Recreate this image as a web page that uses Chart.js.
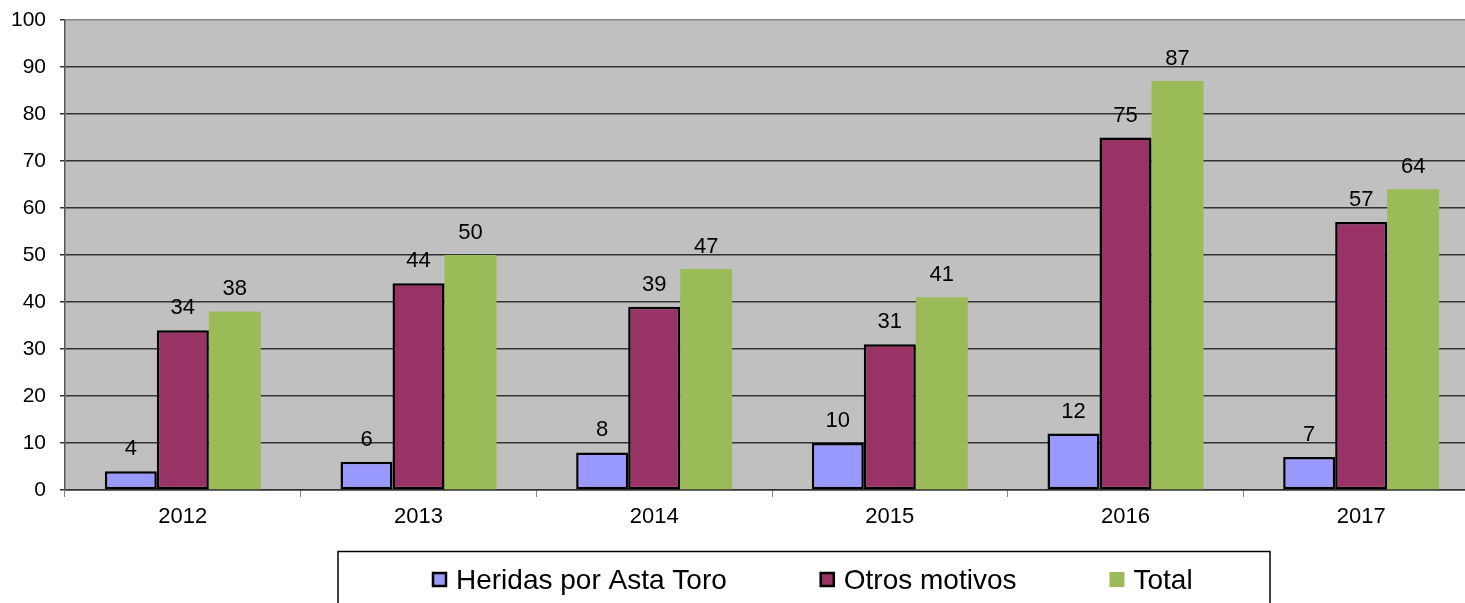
<!DOCTYPE html>
<html>
<head>
<meta charset="utf-8">
<script src="https://cdn.jsdelivr.net/npm/chart.js@4/dist/chart.umd.min.js"></script>
<style>
  html, body { margin: 0; padding: 0; background: #fff; overflow: hidden; }
  #wrap { width: 1480px; height: 603px; }
</style>
</head>
<body>
<div id="wrap"><canvas id="mycanvas" width="1480" height="603"></canvas></div>
<script>
var years = ['2012', '2013', '2014', '2015', '2016', '2017'];
var heridas = [4, 6, 8, 10, 12, 7];
var otros = [34, 44, 39, 31, 75, 57];
var total = [38, 50, 47, 41, 87, 64];
var yTicks = [0, 10, 20, 30, 40, 50, 60, 70, 80, 90, 100];

var FONT = "Arial, 'Liberation Sans', sans-serif";

// etiquetas encima de cada barra
var valueLabels = {
	id: 'valueLabels',
	afterDatasetsDraw: function(chart) {
		var ctx = chart.ctx;
		ctx.save();
		ctx.font = '22px ' + FONT;
		ctx.fillStyle = '#000';
		ctx.textAlign = 'center';
		ctx.textBaseline = 'alphabetic';
		chart.data.datasets.forEach(function(ds, i) {
			var meta = chart.getDatasetMeta(i);
			meta.data.forEach(function(bar, j) {
				ctx.fillText(ds.data[j], bar.x, bar.y - 16);
			});
		});
		ctx.restore();
	}
};

// leyenda con recuadro, como en el original
var boxLegend = {
	id: 'boxLegend',
	afterDraw: function(chart) {
		var ctx = chart.ctx;
		ctx.save();
		ctx.fillStyle = '#fff';
		ctx.fillRect(338, 551, 932, 80);
		ctx.strokeStyle = '#000';
		ctx.lineWidth = 1.5;
		ctx.strokeRect(338, 551.5, 932, 80);
		ctx.font = '28px ' + FONT;
		ctx.textBaseline = 'middle';
		ctx.textAlign = 'left';
		var x = 432;
		chart.data.datasets.forEach(function(ds) {
			ctx.fillStyle = ds.backgroundColor;
			ctx.fillRect(x, 572, 15, 15);
			if (ds.borderWidth > 0) {
				ctx.strokeStyle = '#000';
				ctx.lineWidth = 2.5;
				ctx.strokeRect(x + 1, 573, 13, 13);
			}
			ctx.fillStyle = '#000';
			ctx.fillText(ds.label, x + 24, 581);
			x += 24 + ctx.measureText(ds.label).width + 93;
		});
		ctx.restore();
	}
};

// fondo gris del área de trazado
var plotBg = {
	id: 'plotBg',
	beforeDraw: function(chart) {
		var a = chart.chartArea;
		var ctx = chart.ctx;
		ctx.save();
		ctx.fillStyle = '#C0C0C0';
		ctx.fillRect(a.left, a.top, a.right - a.left, a.bottom - a.top);
		ctx.restore();
	}
};

function noPad(scale) {
	scale.paddingTop = 0;
	scale.paddingBottom = 0;
	scale.paddingLeft = 0;
	scale.paddingRight = 0;
}

var chartdata = {
	labels: years,
	datasets: [
		{ label: 'Heridas por Asta Toro', data: heridas, backgroundColor: '#9999FF', borderColor: '#000', borderWidth: 2.5, borderSkipped: false },
		{ label: 'Otros motivos', data: otros, backgroundColor: '#993366', borderColor: '#000', borderWidth: 2.5, borderSkipped: false },
		{ label: 'Total', data: total, backgroundColor: '#9BBB59', borderWidth: 0 }
	]
};

var ctx = document.getElementById('mycanvas');
var barGraph = new Chart(ctx, {
	type: 'bar',
	data: chartdata,
	plugins: [plotBg, valueLabels, boxLegend],
	options: {
		responsive: false,
		animation: false,
		categoryPercentage: 0.662,
		barPercentage: 1,
		layout: { padding: { top: 20, right: 1, left: 0, bottom: 0 } },
		plugins: { legend: { display: false }, tooltip: { enabled: false } },
		scales: {
			x: {
				afterFit: function(scale) { scale.height = 113; noPad(scale); },
				grid: { drawOnChartArea: false, tickLength: 7, color: '#808080', offset: true },
				border: { color: '#333', width: 1.5 },
				ticks: { color: '#000', font: { family: FONT, size: 22 }, padding: 7 }
			},
			y: {
				min: 0,
				max: 100,
				afterFit: function(scale) { scale.width = 65; noPad(scale); },
				afterBuildTicks: function(scale) {
					scale.ticks = yTicks.map(function(v) { return { value: v }; });
				},
				grid: {
					color: function(c) { return c.tick && c.tick.value === 100 ? '#888' : '#333'; },
					tickColor: '#333',
					lineWidth: 1.5,
					tickLength: 5
				},
				border: { color: '#555', width: 1.5 },
				ticks: { color: '#000', font: { family: FONT, size: 21 }, padding: 14 }
			}
		}
	}
});
</script>
</body>
</html>
